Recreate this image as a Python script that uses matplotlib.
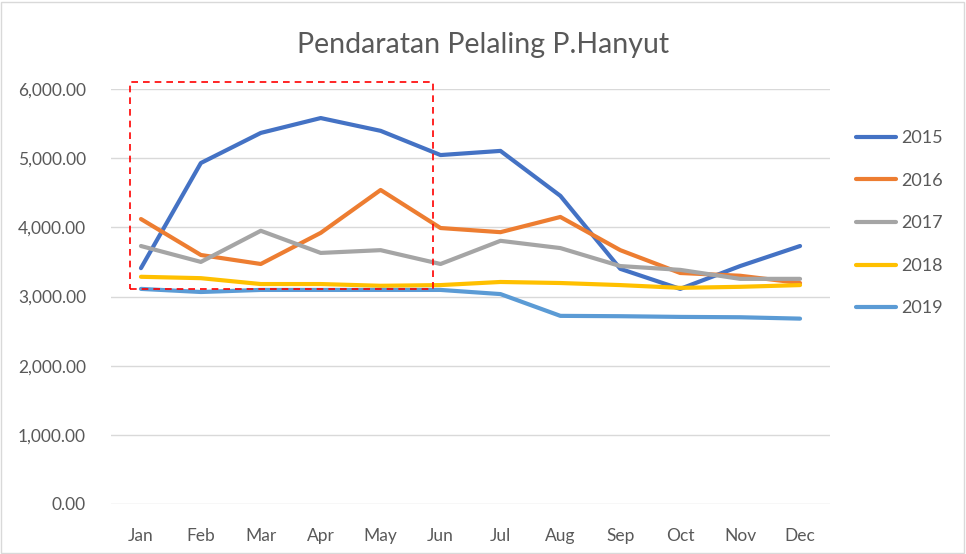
import matplotlib

matplotlib.use("Agg")
import matplotlib.pyplot as plt
from matplotlib.patches import Rectangle
from matplotlib.ticker import FuncFormatter

months = ["Jan", "Feb", "Mar", "Apr", "May", "Jun",
          "Jul", "Aug", "Sep", "Oct", "Nov", "Dec"]

y2015 = [3410, 4930, 5365, 5580, 5395, 5045, 5105, 4455, 3400, 3110, 3440, 3730]
y2016 = [4120, 3600, 3470, 3920, 4540, 3990, 3930, 4150, 3670, 3340, 3300, 3195]
y2017 = [3730, 3500, 3950, 3630, 3670, 3470, 3805, 3700, 3440, 3385, 3255, 3255]
y2018 = [3285, 3265, 3180, 3180, 3155, 3165, 3210, 3195, 3165, 3125, 3140, 3165]
y2019 = [3110, 3065, 3095, 3095, 3095, 3095, 3035, 2720, 2715, 2705, 2700, 2680]

series = [
    ("2015", y2015, "#4472C4"),
    ("2016", y2016, "#ED7D31"),
    ("2017", y2017, "#A5A5A5"),
    ("2018", y2018, "#FFC000"),
    ("2019", y2019, "#5B9BD5"),
]

plt.rcParams["font.family"] = ["Lato", "DejaVu Sans"]

fig = plt.figure(figsize=(9.66, 5.54), dpi=100)
ax = fig.add_axes([111 / 966, 1 - 504 / 554, 719 / 966, 415 / 554])

x = list(range(len(months)))
for name, vals, color in series:
    ax.plot(x, vals, color=color, lw=3.0, label=name,
            solid_capstyle="round", solid_joinstyle="round")

ax.set_xlim(-0.5, len(months) - 0.5)
ax.set_ylim(0, 6000)
ax.set_yticks(range(0, 6001, 1000))
ax.yaxis.set_major_formatter(FuncFormatter(lambda v, _: f"{v:,.2f}"))
ax.set_xticks(x)
ax.set_xticklabels(months)
ax.grid(axis="y", color="#D9D9D9", lw=1)
ax.set_axisbelow(True)
for s in ax.spines.values():
    s.set_visible(False)
ax.tick_params(length=0, labelsize=12.5, colors="#595959")
ax.tick_params(axis="x", pad=17)
ax.tick_params(axis="y", pad=18)

# red dashed highlight box
ax.add_patch(Rectangle((-0.18, 3108), 5.05, 2993, fill=False,
                       edgecolor="#FF0000", lw=1.2, ls=(0, (4, 3)),
                       clip_on=False, zorder=5))

fig.text(0.5, 1 - 45 / 554, "Pendaratan Pelaling P.Hanyut",
         ha="center", va="center", fontsize=20.5, color="#595959")

fig.legend(loc="upper left", bbox_to_anchor=(840 / 966, 1 - 114 / 554),
           frameon=False, fontsize=13, labelspacing=1.47, handlelength=2.2,
           handletextpad=0.3, labelcolor="#595959")

fig.patches.append(Rectangle((0.001, 0.002), 0.997, 0.995, transform=fig.transFigure,
                             fill=False, edgecolor="#D9D9D9", lw=1))

fig.savefig("out.png", dpi=100)
